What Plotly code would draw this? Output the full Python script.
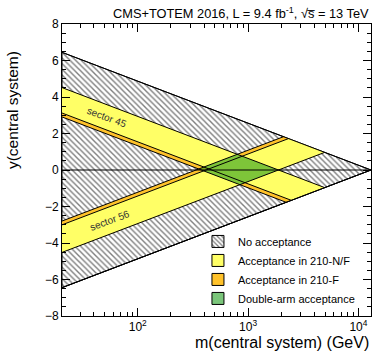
import numpy as np
import plotly.graph_objects as go

# ---- data ----
SQRT_S = 13000.0          # GeV
M_MIN = 20.6              # GeV, left end of the mass axis
# xi acceptance limits per sector
xi45_F_min = 0.029        # 210-F lower limit (sector 45)
xi45_NF_min = 0.036       # 210-N/F lower limit (sector 45)
xi45_max = 0.145
xi56_F_min = 0.026
xi56_NF_min = 0.032
xi56_max = 0.145

legend_names = ["No acceptance", "Acceptance in 210-N/F", "Acceptance in 210-F", "Double-arm acceptance"]
x_tick_vals = [100, 1000, 10000]
x_tick_text = ["10<sup>2</sup>", "10<sup>3</sup>", "10<sup>4</sup>"]

YELLOW = "#ffff66"
ORANGE = "#ffc22a"
GREEN_T = "rgba(20,150,20,0.55)"
FONT = "Liberation Sans, Arial, sans-serif"


def band_poly(xi_lo, xi_hi, sign):
    """band of constant xi between xi_lo and xi_hi, clipped to the kinematic triangle"""
    def yl(xi, m):
        return sign * np.log(xi * SQRT_S / m)
    ms = [M_MIN, M_MIN, SQRT_S * np.sqrt(xi_hi), SQRT_S * np.sqrt(xi_lo), M_MIN]
    ys = [yl(xi_lo, M_MIN), yl(xi_hi, M_MIN), sign * 0.5 * np.log(xi_hi),
          sign * 0.5 * np.log(xi_lo), yl(xi_lo, M_MIN)]
    return ms, ys


def edge_line(xi, sign):
    return [M_MIN, SQRT_S * np.sqrt(xi)], [sign * np.log(xi * SQRT_S / M_MIN), sign * 0.5 * np.log(xi)]


def diamond(a_lo, a_hi, c_lo, c_hi):
    pts = [(a_lo, c_lo), (a_hi, c_lo), (a_hi, c_hi), (a_lo, c_hi), (a_lo, c_lo)]
    ms = [SQRT_S * np.sqrt(a * c) for a, c in pts]
    ys = [0.5 * np.log(a / c) for a, c in pts]
    return ms, ys


fig = go.Figure()

# kinematic triangle (no acceptance)
ymax_left = np.log(SQRT_S / M_MIN)
fig.add_trace(go.Scatter(
    x=[M_MIN, SQRT_S, M_MIN, M_MIN], y=[ymax_left, 0, -ymax_left, ymax_left],
    mode="lines", fill="toself", fillcolor="white",
    fillpattern=dict(shape="\\", size=4, solidity=0.35, fgcolor="black", bgcolor="white"),
    line=dict(color="black", width=1), showlegend=False, hoverinfo="skip"))

# 210-F bands (orange), then 210-N/F bands (yellow)
for lo, hi, sgn in [(xi45_F_min, xi45_max, 1), (xi56_F_min, xi56_max, -1)]:
    mx, my = band_poly(lo, hi, sgn)
    fig.add_trace(go.Scatter(x=mx, y=my, mode="lines", fill="toself", fillcolor=ORANGE,
                             line=dict(width=0), showlegend=False, hoverinfo="skip"))
for lo, hi, sgn in [(xi45_NF_min, xi45_max, 1), (xi56_NF_min, xi56_max, -1)]:
    mx, my = band_poly(lo, hi, sgn)
    fig.add_trace(go.Scatter(x=mx, y=my, mode="lines", fill="toself", fillcolor=YELLOW,
                             line=dict(width=0), showlegend=False, hoverinfo="skip"))

# double-arm acceptance
mx, my = diamond(xi45_F_min, xi45_max, xi56_F_min, xi56_max)
fig.add_trace(go.Scatter(x=mx, y=my, mode="lines", fill="toself", fillcolor=GREEN_T,
                         line=dict(width=0), showlegend=False, hoverinfo="skip"))

# edge lines
lx, ly = [], []
for xi, sgn in [(xi45_F_min, 1), (xi45_NF_min, 1), (xi45_max, 1),
                (xi56_F_min, -1), (xi56_NF_min, -1), (xi56_max, -1)]:
    ex, ey = edge_line(xi, sgn)
    lx += ex + [None]
    ly += ey + [None]
lx += [M_MIN, SQRT_S, None, M_MIN, SQRT_S, M_MIN, SQRT_S]
ly += [0, 0, None, ymax_left, 0, -ymax_left, 0]
fig.add_trace(go.Scatter(x=lx, y=ly, mode="lines", line=dict(color="black", width=1),
                         showlegend=False, hoverinfo="skip"))

# legend entries
leg_styles = [
    dict(color="white", pattern=dict(shape="\\", size=4, solidity=0.4, fgcolor="black", bgcolor="white")),
    dict(color=YELLOW), dict(color=ORANGE), dict(color="rgb(122,197,122)")]
for name, st in zip(legend_names, leg_styles):
    fig.add_trace(go.Bar(x=[None], y=[None], name=name,
                         marker=dict(line=dict(color="black", width=1), **st)))

# sector labels
for xi_lo, xi_hi, sgn, txt, m in [(xi45_NF_min, xi45_max, 1, "sector 45", 53.0),
                                   (xi56_NF_min, xi56_max, -1, "sector 56", 55.6)]:
    yc = sgn * np.log(np.sqrt(xi_lo * xi_hi) * SQRT_S / m)
    fig.add_annotation(x=np.log10(m), y=yc, text=txt, showarrow=False,
                       textangle=20.6 * sgn, font=dict(size=10, color="#333", family=FONT))

fig.add_annotation(xref="paper", yref="paper", x=1.0, y=1.0, xanchor="right", yanchor="bottom",
                   yshift=1, text="CMS+TOTEM 2016, L = 9.4 fb<sup>-1</sup>, √s̅ = 13 TeV",
                   showarrow=False, font=dict(size=12.8, family=FONT, color="black"))
fig.add_annotation(xref="paper", yref="paper", x=1.0, y=0, xanchor="right", yanchor="top",
                   yshift=-16, text="m(central system) (GeV)",
                   showarrow=False, font=dict(size=16, family=FONT, color="black"))
fig.add_annotation(xref="paper", yref="paper", x=-0.162, y=0.705, xanchor="center", yanchor="middle",
                   text="y(central system)", textangle=-90,
                   showarrow=False, font=dict(size=15.5, family=FONT, color="black"))

fig.update_layout(
    width=374, height=352, margin=dict(l=62, r=3, t=24, b=36),
    plot_bgcolor="white", paper_bgcolor="white",
    font=dict(family=FONT, size=12, color="black"),
    showlegend=True,
    legend=dict(x=0.44, y=0.305, xanchor="left", yanchor="top", bgcolor="rgba(0,0,0,0)",
                font=dict(size=11, family=FONT), tracegroupgap=0, itemwidth=30),
    xaxis=dict(type="log", range=[np.log10(M_MIN), np.log10(SQRT_S)], showgrid=False, zeroline=False,
               showline=True, linecolor="black", linewidth=1, mirror="ticks",
               ticks="inside", ticklen=8, tickcolor="black",
               tickvals=x_tick_vals, ticktext=x_tick_text, tickfont=dict(size=12),
               minor=dict(ticks="inside", ticklen=4, tickcolor="black",
                          tickvals=[k * 10 ** e for e in (1, 2, 3) for k in range(2, 10)])),
    yaxis=dict(range=[-8, 8], dtick=2, showgrid=False, zeroline=False,
               showline=True, linecolor="black", linewidth=1, mirror="ticks",
               ticks="inside", ticklen=8, tickcolor="black", tickfont=dict(size=12),
               minor=dict(ticks="inside", ticklen=4, dtick=0.5, tickcolor="black")),
)

fig.write_html("out.html", config={"displayModeBar": False},
               post_script="document.body.style.margin='0';")
